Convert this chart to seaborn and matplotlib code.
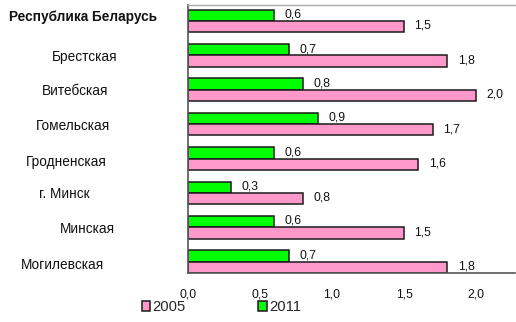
import matplotlib
matplotlib.use("Agg")
import matplotlib.pyplot as plt
from matplotlib.patches import Patch
import matplotlib.transforms as mtransforms
import seaborn as sns
import pandas as pd

regions = ["Республика Беларусь", "Брестская", "Витебская", "Гомельская",
           "Гродненская", "г. Минск", "Минская", "Могилевская"]
values_2005 = [1.5, 1.8, 2.0, 1.7, 1.6, 0.8, 1.5, 1.8]
values_2011 = [0.6, 0.7, 0.8, 0.9, 0.6, 0.3, 0.6, 0.7]
years = ["2005", "2011"]
x_ticks = [0.0, 0.5, 1.0, 1.5, 2.0]

df = pd.DataFrame({
    "region": regions * 2,
    "year": ["2011"] * len(regions) + ["2005"] * len(regions),
    "value": values_2011 + values_2005,
})

colors = {"2005": "#ff99cc", "2011": "#00ff00"}

sns.set_style("white")
plt.rcParams["font.family"] = ["Liberation Sans", "DejaVu Sans"]

fig = plt.figure(figsize=(5.16, 3.22), dpi=100)
ax = fig.add_axes([188 / 516, 1 - 273 / 322, (515 - 188) / 516, (273 - 5) / 322])

bar_width = 0.66
sns.barplot(data=df, y="region", x="value", hue="year", order=regions,
            hue_order=["2011", "2005"], palette=colors, orient="h",
            width=bar_width, edgecolor="#1a1a1a", linewidth=1.1, ax=ax,
            legend=False, saturation=1)

ax.set_xlim(0, 2.27)
ax.set_ylim(len(regions) - 1 + bar_width / 2, -0.465)
ax.set_xticks(x_ticks)
ax.set_xticklabels([f"{t:.1f}".replace(".", ",") for t in x_ticks], fontsize=8.8,
                   color="#111111")
ax.tick_params(axis="x", direction="out", length=3, width=1, color="#333333", pad=8)
ax.tick_params(axis="y", length=0)
ax.set_xlabel("")
ax.set_ylabel("")

for side in ["left", "bottom"]:
    ax.spines[side].set_color("#555555")
    ax.spines[side].set_linewidth(1.2)
ax.spines["top"].set_color("#aaaaaa")
ax.spines["top"].set_linewidth(1.0)
ax.spines["right"].set_visible(False)

# value labels to the right of every bar
for container in ax.containers:
    for bar in container:
        w = bar.get_width()
        ax.annotate(f"{w:.1f}".replace(".", ","),
                    xy=(w, bar.get_y() + bar.get_height() / 2),
                    xytext=(7.5, 0.5), textcoords="offset points",
                    ha="left", va="center", fontsize=8.8, color="#111111")

# category names, centred at individual horizontal positions
label_centers = [83, 85, 75, 73, 66, 64, 87, 63]
label_shift = [-0.12, 0.05, 0.03, 0.05, 0.1, 0.03, 0.06, 0.1]
ax.set_yticklabels([])
trans = mtransforms.blended_transform_factory(fig.transFigure, ax.transData)
for i, (name, cx, dy) in enumerate(zip(regions, label_centers, label_shift)):
    ax.text(cx / 516, i + dy, name, transform=trans, ha="center", va="center",
            fontsize=9.8, fontweight="bold" if i == 0 else "normal",
            color="#111111", clip_on=False)

handles = [Patch(facecolor=colors[y], edgecolor="#1a1a1a", linewidth=1.1, label=y)
           for y in years]
fig.legend(handles=handles, loc="center left", bbox_to_anchor=(142 / 516, 1 - 307 / 322),
           ncol=2, frameon=False, fontsize=10.7, handlelength=0.55, handleheight=0.62,
           handletextpad=0.15, columnspacing=4.9, borderpad=0, borderaxespad=0)

fig.savefig("out.png", dpi=100)
